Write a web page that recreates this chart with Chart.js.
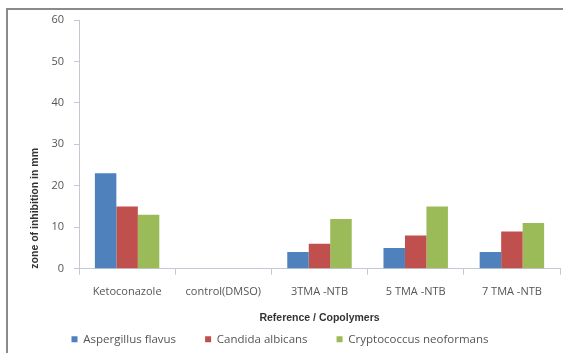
<!DOCTYPE html>
<html>
<head>
<meta charset="utf-8">
<script src="https://cdn.jsdelivr.net/npm/chart.js@4"></script>
<style>
  html, body { margin: 0; padding: 0; background: #fff; overflow: hidden; }
  #wrap { position: relative; width: 563px; height: 353px; }
  #frame { position: absolute; left: 6px; top: 8px; width: 620px; height: 400px;
           border: 2px solid #8a8a8a; box-sizing: border-box; }
  canvas { position: absolute; left: 0; top: 0; }
</style>
</head>
<body>
<div id="wrap">
  <div id="frame"></div>
  <canvas id="zoneChart" width="563" height="353"></canvas>
</div>
<script>
// Zone of inhibition (mm) per reference / copolymer
const categories = ["Ketoconazole", "control(DMSO)", "3TMA -NTB", "5 TMA -NTB", "7 TMA -NTB"];
const aspergillus = [23, 0, 4, 5, 4];
const candida = [15, 0, 6, 8, 9];
const cryptococcus = [13, 0, 12, 15, 11];
const yTicks = [0, 10, 20, 30, 40, 50, 60];

const labelFont = { family: "Open Sans", size: 11 };
const legendFont = { family: "Open Sans", size: 11.5 };
const titleFont = { family: "Liberation Sans", size: 10.5, weight: "bold" };
const axisGrey = "#c3c9d2";

const ctx = document.getElementById("zoneChart");

new Chart(ctx, {
  type: "bar",
  data: {
    labels: categories,
    datasets: [
      { label: "Aspergillus flavus", data: aspergillus, backgroundColor: "#4f81bd" },
      { label: "Candida albicans", data: candida, backgroundColor: "#c0504d" },
      { label: "Cryptococcus neoformans", data: cryptococcus, backgroundColor: "#9bbb59" }
    ]
  },
  options: {
    responsive: false,
    animation: false,
    categoryPercentage: 0.67,
    barPercentage: 1,
    layout: { padding: { left: 0, right: 3, top: 20, bottom: -2 } },
    plugins: {
      tooltip: { enabled: false },
      legend: {
        position: "bottom",
        labels: {
          boxWidth: 6,
          boxHeight: 6,
          padding: 29,
          color: "#555",
          font: legendFont
        }
      }
    },
    scales: {
      x: {
        grid: { display: true, drawOnChartArea: false, tickLength: 6, color: axisGrey, offset: true },
        border: { color: axisGrey },
        ticks: { color: "#555", padding: 11, font: labelFont },
        title: {
          display: true,
          text: "Reference / Copolymers",
          color: "#333",
          // negative bottom padding lets the legend sit closer to the axis title
          padding: { top: 2, bottom: -20 },
          font: titleFont
        }
      },
      y: {
        min: 0,
        max: 60,
        afterBuildTicks: axis => { axis.ticks = yTicks.map(v => ({ value: v })); },
        afterFit: axis => { axis.width = 79; },
        grid: { display: true, drawOnChartArea: false, tickLength: 5, color: axisGrey },
        border: { color: axisGrey },
        ticks: { color: "#555", padding: 10, font: labelFont },
        title: {
          display: true,
          text: "zone of inhibition in mm",
          align: "start",
          color: "#333",
          padding: { top: 29, bottom: 0 },
          font: titleFont
        }
      }
    }
  }
});
</script>
</body>
</html>
